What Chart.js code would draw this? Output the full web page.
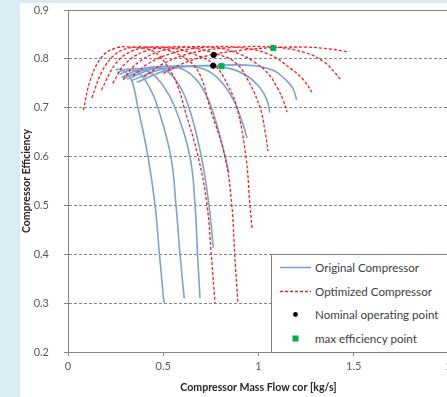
<!DOCTYPE html>
<html>
<head>
<meta charset="utf-8">
<script src="https://cdn.jsdelivr.net/npm/chart.js@4"></script>
<style>
  html,body{margin:0;padding:0;width:447px;height:397px;overflow:hidden;background:#d9ebf3;font-family:Lato,'Open Sans',sans-serif}
  #wrap{position:absolute;left:20px;top:3px;width:440px;height:394px;background:#fff}
  #legend{position:absolute;left:271px;top:254px;width:200px;height:97px;border:1px solid #7f7f7f;background:#fff;font:11.6px Lato,sans-serif;color:#404040}
  #legend .row{position:absolute;left:0;height:15px;line-height:15px}
  #legend .sw{position:absolute;left:8px;top:0;width:31px;height:15px}
  #legend .tx{position:absolute;left:43px;top:0;white-space:nowrap}
</style>
</head>
<body>
<div id="wrap"><canvas id="c"></canvas></div>
<div id="legend"></div>
<script>
/* compressor map: original vs optimized speed lines */

// original compressor speed lines (mass flow cor [kg/s] / efficiency)
const origFlow = [
  [0.25,0.28,0.33,0.367,0.42,0.457,0.48,0.504],
  [0.26,0.32,0.38,0.43,0.472,0.54,0.567,0.588,0.61],
  [0.27,0.35,0.43,0.50,0.562,0.64,0.667,0.68,0.693],
  [0.28,0.38,0.48,0.56,0.635,0.70,0.74,0.763],
  [0.29,0.42,0.55,0.64,0.72,0.77,0.815,0.845],
  [0.31,0.45,0.62,0.72,0.80,0.87,0.915,0.94],
  [0.33,0.50,0.70,0.84,0.94,1.01,1.045,1.06],
  [0.36,0.55,0.80,0.98,1.08,1.14,1.18,1.20]
];
const origEff = [
  [0.778,0.778,0.76,0.70,0.60,0.50,0.40,0.30],
  [0.772,0.779,0.768,0.74,0.70,0.60,0.50,0.40,0.31],
  [0.768,0.78,0.772,0.745,0.70,0.60,0.50,0.40,0.31],
  [0.762,0.779,0.781,0.76,0.70,0.60,0.50,0.413],
  [0.76,0.78,0.784,0.77,0.73,0.68,0.615,0.566],
  [0.758,0.78,0.785,0.778,0.755,0.715,0.67,0.638],
  [0.755,0.78,0.786,0.781,0.765,0.74,0.715,0.69],
  [0.752,0.78,0.787,0.786,0.776,0.758,0.74,0.716]
];

// optimized compressor speed lines
const optFlow = [
  [0.08,0.12,0.18,0.25,0.33,0.45,0.53,0.58,0.61,0.683,0.73,0.752,0.772],
  [0.125,0.18,0.25,0.33,0.42,0.52,0.62,0.69,0.745,0.824,0.86,0.875,0.892],
  [0.175,0.25,0.33,0.43,0.55,0.66,0.77,0.84,0.887,0.934,0.955,0.966],
  [0.235,0.30,0.40,0.52,0.65,0.78,0.877,0.94,1.008,1.035,1.05],
  [0.29,0.36,0.48,0.62,0.78,0.90,0.98,1.05,1.10,1.13,1.15],
  [0.34,0.42,0.55,0.70,0.88,1.05,1.17,1.24,1.28],
  [0.40,0.50,0.65,0.85,1.08,1.25,1.35,1.40,1.43],
  [0.50,0.60,0.75,0.92,1.08,1.25,1.38,1.47]
];
const optEff = [
  [0.695,0.76,0.805,0.822,0.824,0.815,0.78,0.74,0.70,0.60,0.50,0.40,0.30],
  [0.72,0.775,0.81,0.823,0.824,0.818,0.80,0.77,0.70,0.60,0.50,0.40,0.30],
  [0.736,0.79,0.815,0.824,0.822,0.81,0.787,0.745,0.70,0.60,0.50,0.453],
  [0.75,0.79,0.815,0.824,0.823,0.81,0.793,0.76,0.70,0.65,0.611],
  [0.757,0.79,0.815,0.824,0.823,0.81,0.793,0.77,0.74,0.715,0.691],
  [0.765,0.79,0.812,0.823,0.824,0.81,0.78,0.755,0.732],
  [0.763,0.79,0.812,0.823,0.824,0.812,0.792,0.772,0.758],
  [0.77,0.79,0.808,0.818,0.823,0.824,0.82,0.814]
];

const nominalFlow = [0.765,0.762];
const nominalEff  = [0.808,0.786];
const maxEffFlow  = [0.806,1.078];
const maxEffEff   = [0.785,0.822];

const yTicks = [0.2,0.3,0.4,0.5,0.6,0.7,0.8,0.9];
const xTicks = [0,0.5,1,1.5,2];

const BLUE='#7aa3d6', RED='#ff1a1a', GRID='#868686', TXT='#595959';
const pts=(xs,ys)=>xs.map((x,i)=>({x,y:ys[i]}));

const datasets=[];
origFlow.forEach((f,i)=>datasets.push({label:'Original Compressor',data:pts(f,origEff[i]),showLine:true,
  borderColor:BLUE,borderWidth:1.6,pointRadius:0,tension:0.4,order:3}));
optFlow.forEach((f,i)=>datasets.push({label:'Optimized Compressor',data:pts(f,optEff[i]),showLine:true,
  borderColor:RED,borderWidth:1.3,borderDash:[3,2],pointRadius:0,tension:0.4,order:2}));
datasets.push({label:'Nominal operating point',data:pts(nominalFlow,nominalEff),showLine:false,
  pointStyle:'circle',pointRadius:2.6,backgroundColor:'#000',borderColor:'#000',order:0});
datasets.push({label:'max efficiency point',data:pts(maxEffFlow,maxEffEff),showLine:false,
  pointStyle:'rect',pointRadius:3.6,backgroundColor:'#00b050',borderColor:'#00b050',order:1});

const topBorder={id:'topBorder',afterDraw(ch){
  const a=ch.chartArea,c=ch.ctx;
  c.save();c.strokeStyle=GRID;c.lineWidth=1;c.beginPath();
  c.moveTo(a.left,Math.round(a.top)+0.5);c.lineTo(a.right,Math.round(a.top)+0.5);c.stroke();c.restore();
}};

new Chart(document.getElementById('c'),{
  type:'scatter',
  data:{datasets},
  plugins:[topBorder],
  options:{
    responsive:true,maintainAspectRatio:false,animation:false,
    layout:{padding:{top:7,right:11,left:0,bottom:0}},
    plugins:{legend:{display:false},tooltip:{enabled:false}},
    scales:{
      x:{type:'linear',min:0,max:2,
        afterBuildTicks:s=>{s.ticks=xTicks.map(v=>({value:v}));},
        afterFit:s=>{s.height=45;s.paddingLeft=0;s.paddingRight=0;},
        ticks:{color:TXT,font:{family:'Lato',size:11},padding:4,maxRotation:0,callback:v=>String(v)},
        grid:{drawOnChartArea:false,drawTicks:true,tickLength:4,tickColor:GRID},
        border:{color:GRID,width:1},
        title:{display:true,text:'Compressor Mass Flow cor [kg/s]',color:'#262626',
          font:{family:'Lato',size:10.6,weight:'bold'},padding:{top:0,bottom:3}}},
      y:{type:'linear',min:0.2,max:0.9,
        afterBuildTicks:s=>{s.ticks=yTicks.map(v=>({value:v}));},
        afterFit:s=>{s.width=48;s.paddingTop=0;s.paddingBottom=0;},
        ticks:{color:TXT,font:{family:'Lato',size:11},padding:15,callback:v=>v.toFixed(1)},
        grid:{color:c=>(c.tick&&(c.tick.value<0.25||c.tick.value>0.85))?'rgba(0,0,0,0)':GRID,
          tickColor:GRID,tickLength:4,tickBorderDash:[]},
        border:{color:GRID,width:1,dash:[3,2]},
        title:{display:true,text:'Compressor Efficiency',color:'#262626',
          font:{family:'Lato',size:10.5,weight:'bold'},padding:{top:0,bottom:0}}}
    }
  }
});

// legend box drawn as html inside the plot area
const legendItems=[
  {t:'Original Compressor',sw:`<svg width="31" height="15"><line x1="0" y1="7.5" x2="31" y2="7.5" stroke="${BLUE}" stroke-width="1.6"/></svg>`},
  {t:'Optimized Compressor',sw:`<svg width="31" height="15"><line x1="0" y1="7.5" x2="31" y2="7.5" stroke="${RED}" stroke-width="1.3" stroke-dasharray="3,2"/></svg>`},
  {t:'Nominal operating point',sw:`<svg width="31" height="15"><circle cx="15.5" cy="7.5" r="2.4" fill="#000"/></svg>`},
  {t:'max efficiency point',sw:`<svg width="31" height="15"><rect x="12.5" y="4.5" width="6" height="6" fill="#00b050"/></svg>`}
];
const lg=document.getElementById('legend');
legendItems.forEach((it,i)=>{
  const r=document.createElement('div');r.className='row';r.style.top=(5+i*23.5)+'px';
  r.innerHTML=`<div class="sw">${it.sw}</div><div class="tx">${it.t}</div>`;
  lg.appendChild(r);
});
</script>
</body>
</html>
